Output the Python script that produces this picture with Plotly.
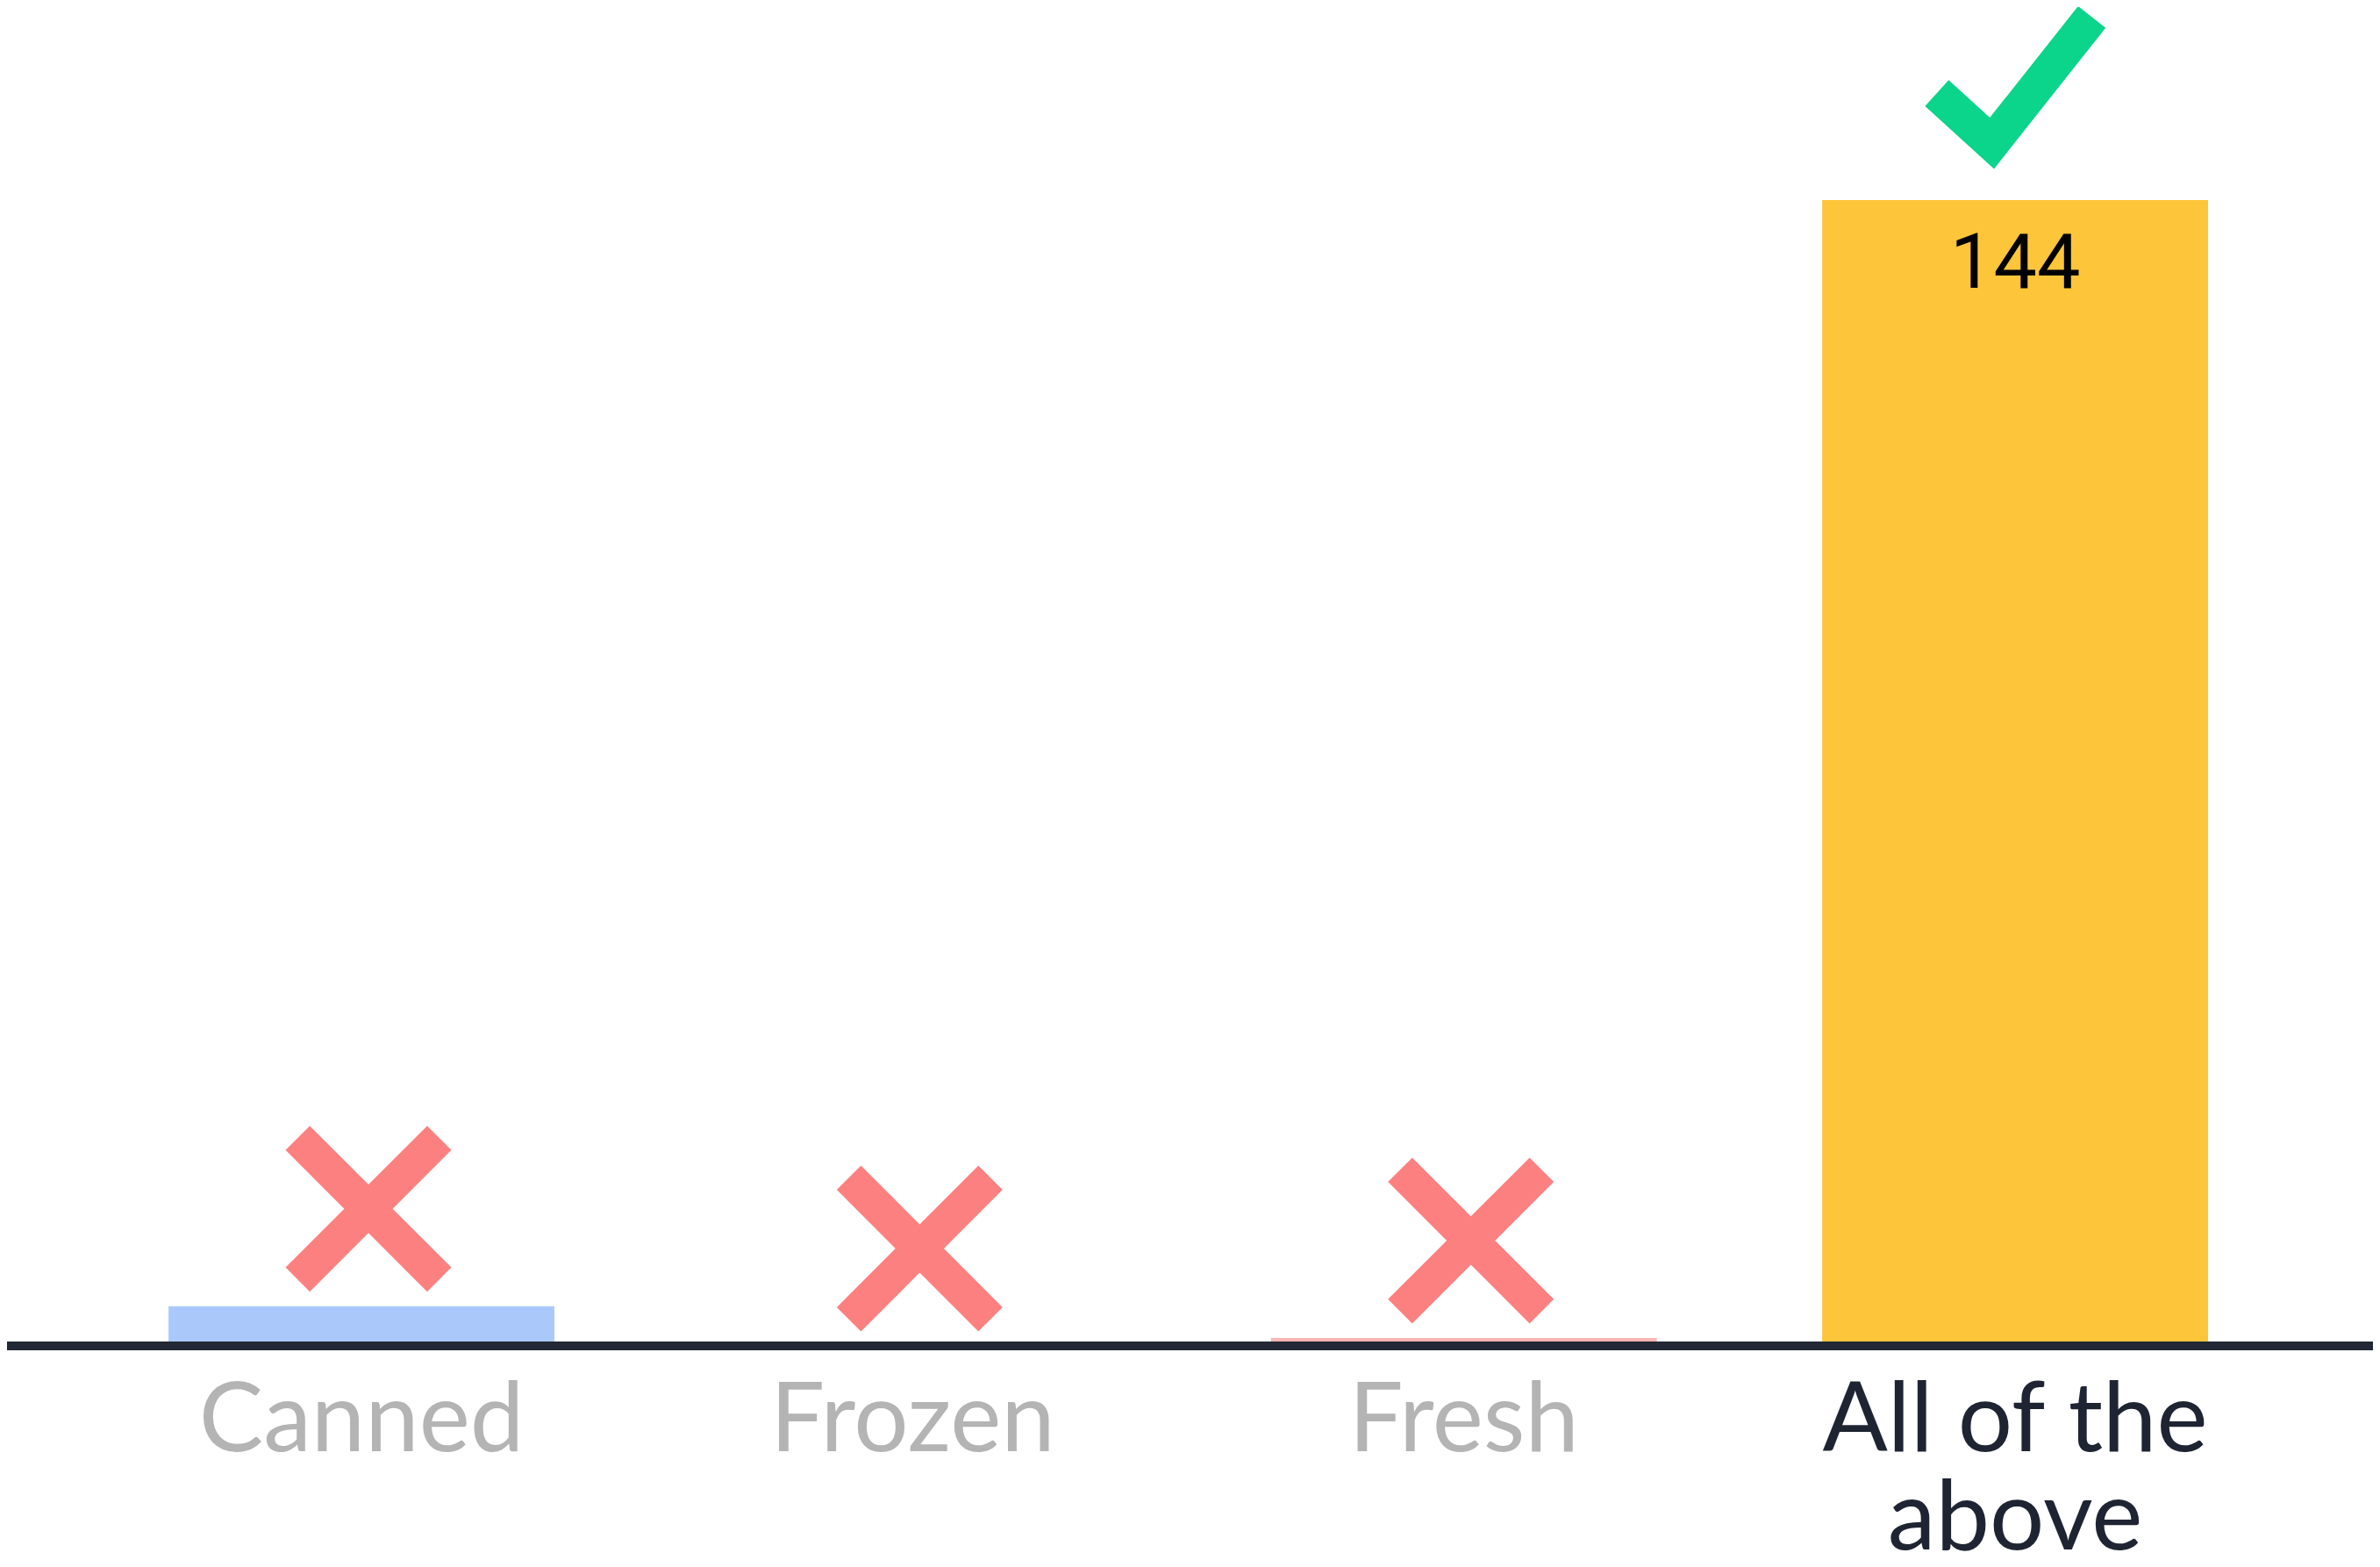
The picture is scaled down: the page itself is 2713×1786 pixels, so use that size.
import math
import plotly.graph_objects as go

# ---- data ----
categories = ["Canned", "Frozen", "Fresh", "All of the above"]
tick_labels = ["Canned", "Frozen", "Fresh", "All of the<br>above"]
values = [5, 0, 1, 144]
is_correct = [False, False, False, True]
bar_colors = ["#aac9fa", "#a8e6cf", "#f9b4b4", "#fdc53a"]

# ---- styles ----
# the page body adds an 8px offset, so the figure is sized to the remaining area
W, H = 2705, 1778
AXIS_COLOR = "#222834"
MUTED = "#b4b4b4"
DARK = "#1f2433"
CROSS_COLOR = "#fd8080"
CHECK_COLOR = "#0bd48b"

fig = go.Figure()
fig.add_trace(go.Bar(
    x=categories,
    y=values,
    marker=dict(color=bar_colors, line=dict(width=0)),
    width=0.7,
    hoverinfo="x+y",
    showlegend=False,
))


def cross_path(cx, cy, h, w):
    a = w / math.sqrt(2)
    pts = [(0, a), (h - a, h), (h, h - a), (a, 0), (h, -(h - a)), (h - a, -h),
           (0, -a), (-(h - a), -h), (-h, -(h - a)), (-a, 0), (-h, h - a), (-(h - a), h)]
    pts = [(cx + px, cy + py) for px, py in pts]
    return "M " + " L ".join(f"{px:.1f},{py:.1f}" for px, py in pts) + " Z"


check_path = "M -89.2,121.8 L -26.4,64.7 L 87.5,208.5"

shapes = []
annotations = []
for cat, val, ok in zip(categories, values, is_correct):
    if ok:
        shapes.append(dict(
            type="path", xref="x", yref="y", xsizemode="pixel", ysizemode="pixel",
            xanchor=cat, yanchor=val, path=check_path,
            line=dict(color=CHECK_COLOR, width=40), fillcolor="rgba(0,0,0,0)",
        ))
    else:
        shapes.append(dict(
            type="path", xref="x", yref="y", xsizemode="pixel", ysizemode="pixel",
            xanchor=cat, yanchor=val, path=cross_path(8, 111, 94.5, 39),
            line=dict(width=0), fillcolor=CROSS_COLOR,
        ))
    if val > 20:
        annotations.append(dict(
            x=cat, y=val, xref="x", yref="y", text=str(val), showarrow=False,
            yanchor="top", yshift=-16,
            font=dict(family="Roboto, 'Liberation Sans', Arial, sans-serif",
                      size=88, color="#000000"),
        ))

# baseline across the whole width
shapes.append(dict(
    type="line", xref="paper", yref="paper", x0=-0.02, x1=1.02, y0=0, y1=0,
    line=dict(color=AXIS_COLOR, width=10), layer="above",
))

ticktext = [
    f"<span style='color:{DARK if ok else MUTED};font-size:110px'>{lab}</span>"
    for lab, ok in zip(tick_labels, is_correct)
]

fig.update_layout(
    width=W, height=H,
    margin=dict(l=0, r=0, t=0, b=252, pad=0, autoexpand=False),
    paper_bgcolor="white", plot_bgcolor="white",
    bargap=0.3,
    shapes=shapes,
    annotations=annotations,
    xaxis=dict(
        type="category",
        range=[-0.643, 3.662],
        tickmode="array", tickvals=categories, ticktext=ticktext,
        showline=False, ticks="", showgrid=False, zeroline=False,
        automargin=False,
        tickfont=dict(family="Lato, Inter, sans-serif", size=86, color=MUTED),
        ticklabelstandoff=33,
    ),
    yaxis=dict(visible=False, range=[0, 168.25], showgrid=False, zeroline=False,
               automargin=False),
)

fig.write_html("out.html")
